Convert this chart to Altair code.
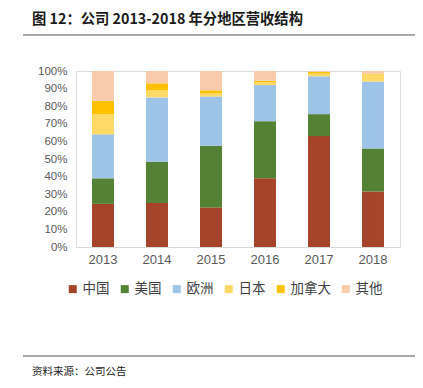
import altair as alt
import pandas as pd

years = ["2013", "2014", "2015", "2016", "2017", "2018"]
regions = ["中国", "美国", "欧洲", "日本", "加拿大", "其他"]
colors = ["#A5442A", "#548235", "#9DC3E6", "#FFD966", "#FFC000", "#F8CBAD"]

china = [24.5, 25.0, 22.5, 39.0, 63.0, 31.5]
usa = [14.5, 23.5, 35.0, 32.5, 12.5, 24.5]
europe = [25.0, 36.5, 28.0, 20.5, 21.5, 38.0]
japan = [11.5, 4.0, 2.0, 1.5, 1.5, 4.0]
canada = [7.5, 4.0, 1.5, 1.0, 1.0, 0.5]
other = [17.0, 7.0, 11.0, 5.5, 0.5, 1.5]

title_text = "图 12：公司 2013-2018 年分地区营收结构"
source_text = "资料来源：公司公告"

series = [china, usa, europe, japan, canada, other]
rows = []
for ri, (r, vals) in enumerate(zip(regions, series)):
    for y, v in zip(years, vals):
        rows.append({"year": y, "region": r, "share": v / 100.0, "idx": ri})
df = pd.DataFrame(rows)

bars = alt.Chart(df).mark_bar().encode(
    x=alt.X("year:O", sort=years,
            scale=alt.Scale(paddingInner=0.593, paddingOuter=0.2965),
            axis=alt.Axis(title=None, labelAngle=0, ticks=False, domain=True,
                          domainColor="#D9D9D9", domainWidth=1,
                          labelFont="Liberation Sans", labelFontSize=13,
                          labelColor="#595959", labelPadding=6)),
    y=alt.Y("share:Q", stack="zero",
            scale=alt.Scale(domain=[0, 1]),
            axis=alt.Axis(title=None, format=".0%",
                          values=[i / 10 for i in range(11)],
                          grid=False, ticks=False, domain=False,
                          labelFont="Liberation Sans", labelFontSize=11.5,
                          labelColor="#595959", labelPadding=9)),
    color=alt.Color("region:N",
                    scale=alt.Scale(domain=regions, range=colors),
                    legend=alt.Legend(title=None, orient="none",
                                      direction="horizontal",
                                      legendX=-10, legendY=211,
                                      symbolType="square", symbolSize=64,
                                      symbolStrokeWidth=0,
                                      labelFont="Noto Sans CJK SC",
                                      labelFontSize=13.5, labelColor="#404040",
                                      labelOffset=3, columnPadding=8,
                                      padding=0)),
    order=alt.Order("idx:Q", sort="ascending"),
)

one = pd.DataFrame({"a": [0]})

title = alt.Chart(one).mark_text(
    align="left", baseline="middle", font="Noto Sans CJK SC",
    fontSize=14.3, fontWeight="bold", color="#1a1a1a"
).encode(x=alt.value(-44), y=alt.value(-51), text=alt.value(title_text))

rule_top = alt.Chart(one).mark_rule(color="#8C8C8C", strokeWidth=1.5).encode(
    x=alt.value(-53), x2=alt.value(345), y=alt.value(-36))

rule_bottom = alt.Chart(one).mark_rule(color="#8C8C8C", strokeWidth=1.5).encode(
    x=alt.value(-53), x2=alt.value(345), y=alt.value(285))

source = alt.Chart(one).mark_text(
    align="left", baseline="middle", font="Noto Sans CJK SC",
    fontSize=10.5, color="#1a1a1a"
).encode(x=alt.value(-44), y=alt.value(301), text=alt.value(source_text))

chart = alt.layer(bars, title, rule_top, rule_bottom, source).properties(
    width=324, height=176,
    padding={"left": 68, "top": 63, "right": 15, "bottom": 133},
    autosize=alt.AutoSizeParams(type="none"),
).configure_view(stroke=None).configure(background="white")

chart.save("out.html", embed_options={"renderer": "svg", "actions": False})
